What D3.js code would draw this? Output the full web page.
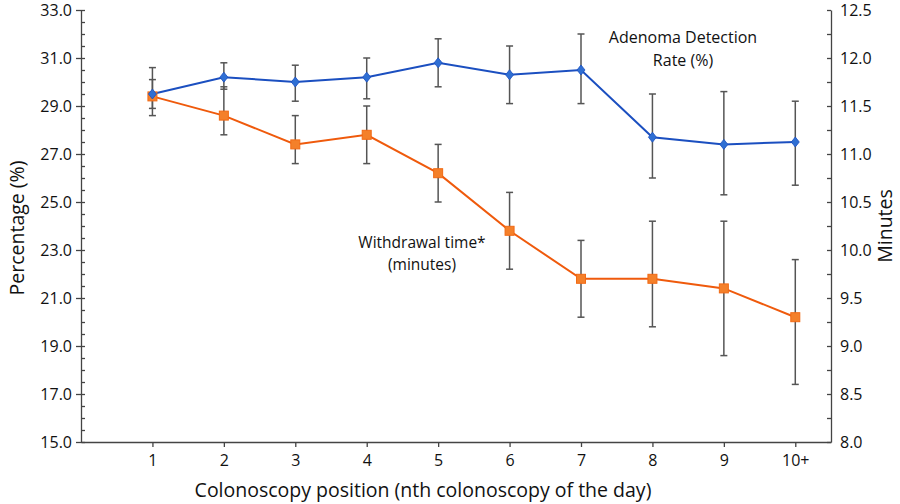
<!DOCTYPE html>
<html>
<head>
<meta charset="utf-8">
<script src="https://cdn.jsdelivr.net/npm/d3@7"></script>
<style>
  html, body { margin: 0; padding: 0; background: #fff; }
  svg { display: block; font-family: "Open Sans", "Noto Sans", sans-serif; }
  .axis path, .axis line { stroke: #444; stroke-width: 1.3; }
  .axis text { fill: #111; font-size: 16px; font-family: "Open Sans", "Noto Sans", sans-serif; }
</style>
</head>
<body>
<svg id="chart" width="900" height="504"></svg>
<script>
// ---- data ----
const positions = ["1", "2", "3", "4", "5", "6", "7", "8", "9", "10+"];
const adr      = [29.5, 30.2, 30.0, 30.2, 30.8, 30.3, 30.5, 27.7, 27.4, 27.5];
const adrLow   = [28.9, 29.7, 29.2, 29.3, 29.8, 29.1, 29.1, 26.0, 25.3, 25.7];
const adrHigh  = [30.1, 30.8, 30.7, 31.0, 31.8, 31.5, 32.0, 29.5, 29.6, 29.2];
const wt       = [11.6, 11.4, 11.1, 11.2, 10.8, 10.2, 9.7, 9.7, 9.6, 9.3];
const wtLow    = [11.4, 11.2, 10.9, 10.9, 10.5, 9.8, 9.3, 9.2, 8.9, 8.6];
const wtHigh   = [11.9, 11.7, 11.4, 11.5, 11.1, 10.6, 10.1, 10.3, 10.3, 9.9];
const leftTicks  = [15, 17, 19, 21, 23, 25, 27, 29, 31, 33];
const rightTicks = [8.0, 8.5, 9.0, 9.5, 10.0, 10.5, 11.0, 11.5, 12.0, 12.5];

// ---- layout ----
const L = 81, R = 831, T = 10, B = 442;
const svg = d3.select("#chart");

const x = d3.scaleLinear().domain([0, 10.5]).range([L, R]);
const yL = d3.scaleLinear().domain([15, 33]).range([B, T]);
const yR = d3.scaleLinear().domain([8, 12.5]).range([B, T]);

const idx = positions.map((_, i) => i + 1);

// left axis: labels + outer major ticks
svg.append("g").attr("class", "axis").attr("transform", `translate(${L},0)`)
  .call(d3.axisLeft(yL).tickValues(leftTicks).tickFormat(d3.format(".1f")).tickSizeInner(5).tickSizeOuter(0).tickPadding(4));
// left axis inner minor ticks
svg.append("g").attr("class", "axis").attr("transform", `translate(${L},0)`)
  .call(d3.axisRight(yL).tickValues(d3.range(15, 33.01, 0.5)).tickFormat("").tickSizeInner(4).tickSizeOuter(0))
  .select(".domain").remove();

// right axis: inner ticks
svg.append("g").attr("class", "axis").attr("transform", `translate(${R},0)`)
  .call(d3.axisLeft(yR).tickValues(d3.range(8, 12.51, 0.25)).tickFormat("").tickSizeInner(4).tickSizeOuter(0));
// right axis labels
svg.append("g").attr("class", "axis").attr("transform", `translate(${R},0)`)
  .call(d3.axisRight(yR).tickValues(rightTicks).tickFormat(d3.format(".1f")).tickSize(0).tickPadding(9))
  .select(".domain").remove();

// x axis
svg.append("g").attr("class", "axis").attr("transform", `translate(0,${B})`)
  .call(d3.axisBottom(x).tickValues(idx).tickFormat((d) => positions[d - 1]).tickSizeInner(5).tickSizeOuter(0).tickPadding(8));

// ---- series ----
const blueLine = "#1b4fc0", blueMark = "#2f6fd3";
const orangeLine = "#ef5a0c", orangeMark = "#f4802a";
const errColor = "#555";

const lineL = d3.line().x((d, i) => x(i + 1)).y((d) => yL(d));
const lineR = d3.line().x((d, i) => x(i + 1)).y((d) => yR(d));

svg.append("path").datum(wt).attr("d", lineR).attr("fill", "none").attr("stroke", orangeLine).attr("stroke-width", 2);
svg.append("path").datum(adr).attr("d", lineL).attr("fill", "none").attr("stroke", blueLine).attr("stroke-width", 2);

function errorBars(low, high, scale) {
  const g = svg.append("g").attr("stroke", errColor).attr("stroke-width", 1.5);
  low.forEach((lo, i) => {
    const cx = x(i + 1), y1 = scale(lo), y2 = scale(high[i]);
    g.append("line").attr("x1", cx).attr("x2", cx).attr("y1", y1).attr("y2", y2);
    g.append("line").attr("x1", cx - 3.5).attr("x2", cx + 3.5).attr("y1", y1).attr("y2", y1);
    g.append("line").attr("x1", cx - 3.5).attr("x2", cx + 3.5).attr("y1", y2).attr("y2", y2);
  });
}
errorBars(wtLow, wtHigh, yR);
errorBars(adrLow, adrHigh, yL);

// markers
svg.append("g").selectAll("rect").data(wt).join("rect")
  .attr("x", (d, i) => x(i + 1) - 4.5).attr("y", (d) => yR(d) - 4.5)
  .attr("width", 9).attr("height", 9)
  .attr("fill", orangeMark).attr("stroke", "#f26a14").attr("stroke-width", 1);

svg.append("g").selectAll("path").data(adr).join("path")
  .attr("d", (d, i) => {
    const cx = x(i + 1), cy = yL(d);
    return `M${cx},${cy - 5}L${cx + 4},${cy}L${cx},${cy + 5}L${cx - 4},${cy}Z`;
  })
  .attr("fill", blueMark).attr("stroke", blueLine).attr("stroke-width", 0.8);

// ---- text ----
const txt = (s, tx, ty, size, rot) => {
  const t = svg.append("text").text(s).attr("text-anchor", "middle")
    .attr("dominant-baseline", "central").attr("font-size", size).attr("fill", "#111");
  if (rot) t.attr("transform", `translate(${tx},${ty}) rotate(${rot})`);
  else t.attr("x", tx).attr("y", ty);
  return t;
};
txt("Adenoma Detection", 683, 37, 16);
txt("Rate (%)", 683, 60, 16);
txt("Withdrawal time*", 422, 242, 15.5);
txt("(minutes)", 422, 264, 15.5);
txt("Percentage (%)", 16, 228, 19.5, -90);
txt("Minutes", 884, 226, 19.5, -90);
txt("Colonoscopy position (nth colonoscopy of the day)", 423, 489, 19.5);
</script>
</body>
</html>
